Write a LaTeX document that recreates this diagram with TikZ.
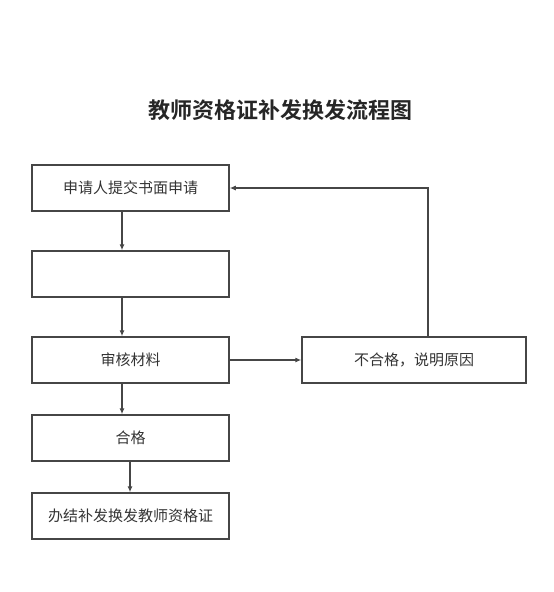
\documentclass[tikz,border=0pt]{standalone}
\usepackage{fontspec}
\newfontfamily\cjk{Noto Sans CJK SC}
\newfontfamily\cjkbold{Noto Sans CJK SC Bold}
\usetikzlibrary{arrows.meta}
\definecolor{boxgray}{RGB}{70,70,70}

\begin{document}
\begin{tikzpicture}[x=1pt,y=-1pt,line cap=round,
  stepbox/.style={draw=boxgray,line width=1.5pt,minimum width=197pt,minimum height=46pt,inner sep=0pt,font=\cjk\fontsize{15}{18}\selectfont,text=black!80},
  flow/.style={draw=boxgray,line width=1.1pt,-{Latex[length=6pt,width=5pt]}}]
  \useasboundingbox (0,0) rectangle (554,592);
  % title
  \node[font=\cjkbold\fontsize{22}{26}\selectfont,text=black!85] (title) at (280,110) {教师资格证补发换发流程图};
  % left column
  \node[stepbox] (apply) at (130.5,188) {申请人提交书面申请};
  \node[stepbox] (blank) at (130.5,274) {};
  \node[stepbox] (check) at (130.5,360) {审核材料};
  \node[stepbox] (pass) at (130.5,438) {合格};
  \node[stepbox] (issue) at (130.5,516) {办结补发换发教师资格证};
  % right
  \node[stepbox,minimum width=224pt] (fail) at (414,360) {不合格，说明原因};
  % connectors
  \draw[flow] (apply.south -| 122,0) -- (blank.north -| 122,0);
  \draw[flow] (blank.south -| 122,0) -- (check.north -| 122,0);
  \draw[flow] (check.south -| 122,0) -- (pass.north -| 122,0);
  \draw[flow] (pass.south -| 130,0) -- (issue.north -| 130,0);
  \draw[flow] (check) -- (fail);
  \draw[flow] (fail.north -| 428,0) |- (apply);
\end{tikzpicture}
\end{document}
